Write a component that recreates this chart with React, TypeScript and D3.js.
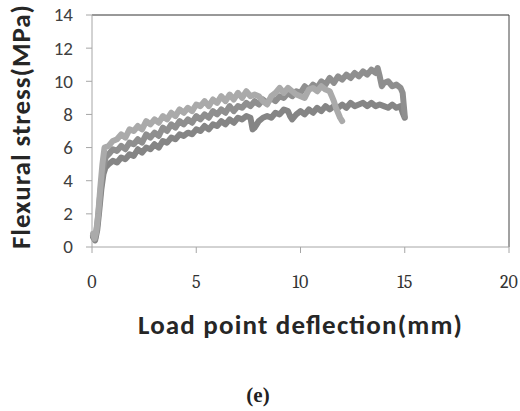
import React from "react";
import * as d3 from "d3";

const xTicks = [0, 5, 10, 15, 20];
const yTicks = [0, 2, 4, 6, 8, 10, 12, 14];

const lightX = [0.05,0.12,0.2,0.3,0.4,0.5,0.6,0.8,1.0,1.2,1.4,1.6,1.8,2.0,2.2,2.4,2.6,2.8,3.0,3.2,3.4,3.6,3.8,4.0,4.2,4.4,4.6,4.8,5.0,5.2,5.4,5.6,5.8,6.0,6.2,6.4,6.6,6.8,7.0,7.2,7.4,7.6,7.8,8.0,8.2,8.4,8.6,8.8,9.0,9.2,9.4,9.6,9.8,10.0,10.2,10.4,10.6,10.8,11.0,11.2,11.4,11.5,11.6,11.7,11.8,11.9,12.0];
const lightY = [0.8,0.5,0.9,2.0,3.6,5.0,6.0,6.1,6.4,6.5,6.8,6.6,7.1,7.0,7.3,7.1,7.6,7.4,7.7,7.5,7.9,7.7,8.1,7.9,8.3,8.1,8.4,8.2,8.6,8.5,8.8,8.5,8.9,8.7,9.1,8.8,9.2,8.9,9.3,9.0,9.4,9.1,9.2,9.1,8.8,8.6,9.1,9.3,9.6,9.3,9.6,9.4,9.2,9.1,9.0,9.5,9.6,9.4,9.7,9.5,9.4,9.1,8.8,8.4,8.1,7.8,7.6];

const upperX = [0.05,0.15,0.25,0.35,0.45,0.55,0.65,0.8,1.0,1.2,1.4,1.6,1.8,2.0,2.2,2.4,2.6,2.8,3.0,3.2,3.4,3.6,3.8,4.0,4.2,4.4,4.6,4.8,5.0,5.2,5.4,5.6,5.8,6.0,6.2,6.4,6.6,6.8,7.0,7.2,7.4,7.6,7.8,8.0,8.2,8.4,8.6,8.8,9.0,9.2,9.4,9.6,9.8,10.0,10.2,10.4,10.6,10.8,11.0,11.2,11.4,11.6,11.8,12.0,12.2,12.4,12.6,12.8,13.0,13.2,13.4,13.6,13.7,13.8,13.9,14.0,14.2,14.4,14.6,14.8,14.9,14.95,15.0];
const upperY = [0.7,0.5,1.3,2.6,3.9,4.8,5.4,5.6,5.9,5.8,6.1,5.9,6.3,6.2,6.5,6.3,6.8,6.6,6.9,6.7,7.2,7.0,7.4,7.2,7.6,7.4,7.7,7.5,7.9,7.7,8.0,7.8,8.2,8.0,8.3,8.1,8.5,8.2,8.5,8.4,8.7,8.5,8.8,8.6,8.9,8.7,9.0,8.8,9.1,9.0,9.3,9.1,9.4,9.3,9.7,9.5,9.8,9.6,10.0,9.8,10.2,9.9,10.3,10.1,10.4,10.2,10.5,10.3,10.6,10.4,10.7,10.5,10.8,10.3,9.7,9.9,10.0,9.7,9.8,9.6,9.3,8.6,7.9];

const lowerX = [0.05,0.15,0.25,0.35,0.45,0.55,0.65,0.8,1.0,1.2,1.4,1.6,1.8,2.0,2.2,2.4,2.6,2.8,3.0,3.2,3.4,3.6,3.8,4.0,4.2,4.4,4.6,4.8,5.0,5.2,5.4,5.6,5.8,6.0,6.2,6.4,6.6,6.8,7.0,7.2,7.4,7.6,7.7,7.8,8.0,8.2,8.4,8.6,8.8,9.0,9.2,9.4,9.5,9.6,9.8,10.0,10.2,10.4,10.6,10.8,11.0,11.2,11.4,11.6,11.8,12.0,12.2,12.4,12.6,12.8,13.0,13.2,13.4,13.6,13.8,14.0,14.2,14.4,14.6,14.8,14.9,15.0];
const lowerY = [0.6,0.4,1.0,2.2,3.5,4.4,4.8,5.0,5.2,5.1,5.4,5.3,5.6,5.5,5.9,5.7,6.0,5.9,6.2,6.0,6.4,6.3,6.6,6.5,6.8,6.7,6.9,6.8,7.1,7.0,7.3,7.1,7.4,7.3,7.6,7.4,7.7,7.5,7.8,7.7,7.9,7.8,7.1,7.2,7.6,7.8,7.9,7.8,8.1,8.0,8.3,8.2,7.9,7.7,8.0,8.2,8.0,8.3,8.1,8.4,8.2,8.5,8.3,8.5,8.4,8.6,8.4,8.7,8.5,8.6,8.7,8.5,8.7,8.5,8.6,8.5,8.4,8.6,8.4,8.5,8.1,7.8];

const seriesList = [
  { xs: lowerX, ys: lowerY, color: "#858585" },
  { xs: upperX, ys: upperY, color: "#8f8f8f" },
  { xs: lightX, ys: lightY, color: "#aaaaaa" },
];

export default function App() {
  const left = 92, right = 509, top = 15, bottom = 247;
  const x = d3.scaleLinear().domain([0, 20]).range([left, right]);
  const y = d3.scaleLinear().domain([0, 14]).range([bottom, top]);
  const line = d3
    .line<[number, number]>()
    .x((d) => x(d[0]))
    .y((d) => y(d[1]));

  return (
    <svg
      width={520}
      height={411}
      style={{ position: "absolute", left: 0, top: 0, background: "#fff" }}
    >
      <rect x={0} y={0} width={520} height={411} fill="#fff" />
      <line x1={left} x2={right} y1={top} y2={top} stroke="#333" strokeWidth={1} />
      <line x1={right} x2={right} y1={top} y2={bottom} stroke="#444" strokeWidth={1} />
      <line x1={left} x2={left} y1={top} y2={bottom} stroke="#a6a6a6" strokeWidth={1} />
      <line x1={left} x2={right} y1={bottom} y2={bottom} stroke="#a6a6a6" strokeWidth={1} />
      <g fontFamily="Carlito" fontSize={19} fill="#404040" textAnchor="end">
        {yTicks.map((t) => (
          <text key={"yl" + t} x={73} y={y(t)} dy="0.34em">
            {t}
          </text>
        ))}
      </g>
      {yTicks.map((t) => (
        <line key={"yt" + t} x1={left - 6} x2={left} y1={y(t)} y2={y(t)} stroke="#a6a6a6" />
      ))}
      {xTicks.map((t) => (
        <line key={"xt" + t} x1={x(t)} x2={x(t)} y1={bottom} y2={bottom + 6} stroke="#a6a6a6" />
      ))}
      <g style={{ fontFamily: '"Caladea", "Liberation Serif"', fontSize: "18px" }} fill="#333" textAnchor="middle">
        {xTicks.map((t) => (
          <text key={"xl" + t} x={x(t)} y={288}>
            {t}
          </text>
        ))}
      </g>
      {seriesList.map((s, i) => (
        <path
          key={i}
          d={line(s.xs.map((v, j) => [v, s.ys[j]] as [number, number])) || ""}
          fill="none"
          stroke={s.color}
          strokeWidth={6}
          strokeLinejoin="round"
          strokeLinecap="round"
        />
      ))}
      <text
        x={300}
        y={334}
        textAnchor="middle"
        fontFamily="Carlito"
        fontWeight="bold"
        fontSize={27}
        fill="#262626"
        textLength={324}
        lengthAdjust="spacing"
      >
        Load point deflection(mm)
      </text>
      <text
        transform="translate(30,127) rotate(-90)"
        textAnchor="middle"
        fontFamily="Carlito"
        fontWeight="bold"
        fontSize={27}
        fill="#262626"
        textLength={244}
        lengthAdjust="spacing"
      >
        Flexural stress(MPa)
      </text>
      <text
        x={258}
        y={402}
        textAnchor="middle"
        style={{ fontFamily: '"Liberation Serif"', fontWeight: "bold", fontSize: "21px" }}
        fill="#222"
      >
        (e)
      </text>
    </svg>
  );
}
